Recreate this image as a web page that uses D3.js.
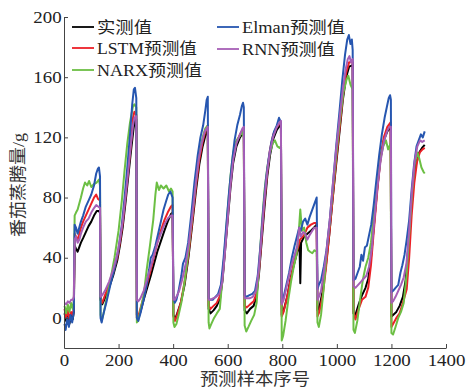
<!DOCTYPE html>
<html>
<head>
<meta charset="utf-8">
<script src="https://cdn.jsdelivr.net/npm/d3@7"></script>
<style>
  body { margin: 0; background: #fff; }
  svg text { font-family: "Liberation Serif", "Noto Sans CJK SC", serif; fill: #222; }
</style>
</head>
<body>
<div id="chart"></div>
<script>
// axis ticks
const xTicks = [0, 200, 400, 600, 800, 1000, 1200, 1400];
const yTicks = [0, 40, 80, 120, 160, 200];

// series: [sample index, transpiration g]
const measured = [
  [2,3],[8,-2],[14,3],[20,-4],[26,2],[32,-1],[36,4],[39,48],[44,46],[50,44],[56,47],[62,50],[70,53],[80,57],[90,61],[100,64],[110,68],[120,71],[128,71],[132,70],
  [134,12],[140,9],[150,13],[165,20],[180,28],[195,38],[205,48],[215,60],[225,76],[235,93],[245,110],[255,126],[262,133],[265,132],
  [267,2],[272,0],[280,4],[292,12],[305,20],[318,28],[330,36],[342,44],[355,51],[368,58],[380,64],[392,69],[398,70],
  [401,2],[407,-1],[415,3],[428,10],[442,22],[456,40],[470,62],[484,85],[496,102],[508,114],[518,121],[527,125],
  [530,6],[537,3],[548,5],[560,8],[572,13],[581,25],[590,44],[600,65],[610,86],[620,103],[632,114],[645,120],[659,124],
  [662,5],[670,3],[682,6],[695,8],[705,14],[715,30],[725,52],[735,74],[745,94],[755,108],[767,119],[780,125],[795,129],
  [798,2],[805,5],[818,14],[830,26],[842,35],[855,44],[863,50],[866,23],[869,50],[880,54],[892,56],[905,58],[916,60],[926,62],
  [929,5],[936,7],[948,18],[960,35],[972,55],[985,80],[998,103],[1010,124],[1022,145],[1034,160],[1045,167],[1058,168],
  [1061,3],[1068,2],[1080,9],[1092,15],[1105,20],[1115,26],[1125,40],[1135,60],[1148,86],[1160,106],[1172,118],[1185,124],[1197,127],
  [1200,1],[1206,2],[1218,4],[1230,8],[1242,14],[1252,25],[1262,48],[1272,72],[1282,92],[1292,104],[1302,110],[1312,113],[1322,115]
];

const lstm = [
  [2,6],[8,0],[14,5],[20,-1],[26,4],[32,2],[36,6],[39,56],[44,54],[50,52],[56,56],[62,60],[70,64],[80,68],[90,72],[100,76],[110,80],[118,82],[125,79],[132,78],
  [134,13],[140,10],[150,15],[165,22],[180,30],[195,40],[205,50],[215,63],[225,80],[235,97],[245,115],[253,133],[258,137],[265,135],
  [267,0],[272,1],[280,6],[292,14],[305,23],[318,32],[330,41],[342,50],[355,58],[368,65],[380,70],[392,74],[398,75],
  [401,1],[407,-2],[415,2],[428,10],[442,24],[456,42],[470,64],[484,88],[496,105],[508,117],[518,124],[527,128],
  [530,8],[537,6],[548,8],[560,10],[572,15],[581,27],[590,46],[600,68],[610,90],[620,107],[632,117],[645,122],[659,126],
  [662,8],[670,7],[682,9],[695,11],[705,16],[715,32],[725,55],[735,78],[745,97],[755,112],[767,122],[780,127],[795,130],
  [798,1],[805,4],[818,14],[830,25],[842,36],[855,45],[865,52],[880,55],[892,60],[905,62],[916,63],[926,63],
  [929,1],[936,4],[948,15],[960,33],[972,55],[985,80],[998,105],[1010,126],[1022,147],[1034,163],[1045,170],[1058,170],
  [1061,4],[1068,-1],[1080,6],[1092,12],[1105,14],[1115,20],[1125,35],[1135,57],[1148,84],[1160,106],[1172,120],[1185,127],[1197,130],
  [1200,-6],[1206,-4],[1218,0],[1230,3],[1242,10],[1256,19],[1265,40],[1274,68],[1284,90],[1294,104],[1304,110],[1314,112],[1322,113]
];

const narx = [
  [2,8],[8,3],[14,9],[20,4],[26,10],[32,6],[36,10],[39,68],[44,70],[50,72],[56,76],[62,80],[70,86],[77,90],[85,88],[92,91],[100,87],[110,89],[120,90],[128,92],[132,88],
  [134,2],[138,-2],[145,3],[155,12],[170,25],[185,40],[200,58],[212,78],[222,98],[232,116],[242,130],[252,140],[258,142],[265,140],
  [267,-3],[272,-2],[280,5],[292,15],[303,32],[315,48],[327,65],[335,82],[340,90],[348,85],[355,88],[365,86],[375,88],[385,84],[392,86],[398,84],
  [401,-3],[405,-6],[412,-4],[420,2],[430,10],[442,24],[456,44],[470,68],[484,92],[496,110],[508,120],[518,126],[527,128],
  [530,-3],[533,-7],[540,-4],[550,0],[560,3],[571,6],[580,25],[590,48],[600,72],[610,94],[620,110],[632,118],[645,121],[652,124],[659,120],
  [662,-5],[668,-9],[676,-6],[686,-2],[697,2],[706,10],[715,35],[725,62],[735,85],[745,100],[755,110],[765,116],[773,118],[782,114],[790,113],[795,114],
  [798,-15],[803,-12],[812,-2],[822,12],[832,24],[842,34],[852,42],[860,56],[866,72],[872,58],[880,60],[888,50],[895,45],[902,44],[910,43],[918,45],[926,44],
  [929,-3],[934,-6],[942,2],[952,20],[963,45],[975,65],[988,90],[1000,112],[1012,133],[1024,150],[1035,158],[1042,161],[1050,155],[1058,152],
  [1061,-8],[1066,-10],[1075,-2],[1085,12],[1095,25],[1105,34],[1115,40],[1125,50],[1135,68],[1148,90],[1160,106],[1170,114],[1180,118],[1188,112],[1197,116],
  [1200,-10],[1206,-11],[1215,-6],[1225,0],[1235,4],[1245,10],[1255,28],[1265,55],[1275,82],[1285,102],[1295,110],[1302,106],[1310,100],[1318,97],[1322,96]
];

const elman = [
  [2,-4],[6,-8],[12,0],[18,-6],[24,2],[30,-3],[36,4],[39,62],[44,60],[50,56],[56,60],[62,64],[70,68],[80,74],[90,78],[100,82],[110,88],[118,96],[124,99],[128,100],[132,94],
  [134,0],[138,-3],[145,3],[155,10],[170,22],[185,33],[200,46],[212,62],[222,80],[232,100],[242,122],[250,142],[256,152],[260,153],[265,146],
  [267,0],[272,-2],[280,3],[292,12],[303,22],[312,32],[318,40],[325,42],[335,48],[345,56],[355,64],[365,72],[375,78],[382,82],[390,84],[398,80],
  [401,14],[406,10],[412,12],[420,18],[430,28],[436,36],[445,40],[455,50],[466,68],[478,90],[490,108],[500,120],[510,128],[518,138],[523,145],[527,147],
  [530,13],[536,12],[545,12],[555,14],[565,16],[575,22],[585,40],[595,62],[605,84],[615,102],[625,118],[635,128],[645,135],[652,141],[656,143],[659,140],
  [662,15],[668,14],[678,15],[690,16],[700,18],[710,28],[720,48],[730,72],[740,92],[750,106],[760,117],[770,124],[780,128],[788,133],[795,130],
  [798,10],[805,14],[815,22],[825,30],[835,40],[845,48],[855,55],[862,60],[868,58],[876,64],[884,66],[892,62],[900,67],[910,72],[918,76],[926,80],
  [929,19],[934,22],[942,25],[952,34],[962,45],[974,65],[986,90],[998,115],[1010,138],[1020,158],[1030,175],[1038,185],[1044,188],[1050,182],[1055,185],[1058,178],
  [1061,25],[1068,26],[1076,30],[1084,34],[1090,42],[1096,38],[1103,47],[1110,48],[1118,55],[1126,62],[1135,75],[1145,92],[1155,108],[1165,122],[1175,133],[1183,140],[1190,146],[1195,148],[1198,145],
  [1200,17],[1206,18],[1215,20],[1225,22],[1233,30],[1240,35],[1248,42],[1256,52],[1265,65],[1274,85],[1283,102],[1292,114],[1300,118],[1308,122],[1315,120],[1322,124]
];

const rnn = [
  [2,10],[8,9],[14,11],[20,10],[26,12],[32,12],[36,14],[39,52],[44,54],[50,50],[56,52],[62,56],[70,60],[80,64],[90,66],[100,70],[110,73],[118,75],[125,74],[132,73],
  [134,14],[140,15],[150,18],[165,24],[180,32],[195,42],[205,52],[215,64],[225,80],[235,97],[245,115],[253,128],[258,133],[263,134],[265,134],
  [267,12],[272,11],[280,13],[292,18],[305,26],[318,34],[330,42],[342,50],[355,56],[368,62],[380,66],[392,68],[398,68],
  [401,12],[406,12],[412,14],[422,18],[434,26],[446,36],[458,50],[470,68],[482,88],[494,106],[506,117],[516,124],[523,126],[527,127],
  [530,12],[536,12],[546,13],[558,14],[570,16],[580,24],[590,44],[600,66],[610,88],[620,105],[632,116],[645,122],[654,126],[659,127],
  [662,13],[668,13],[680,13],[692,14],[704,18],[714,32],[724,55],[734,78],[744,96],[754,110],[766,120],[778,126],[790,130],[795,131],
  [798,9],[805,12],[815,20],[825,28],[835,36],[845,42],[855,48],[862,60],[868,54],[876,57],[884,56],[892,52],[900,55],[910,58],[918,60],[926,60],
  [929,12],[934,14],[942,18],[952,30],[962,44],[974,65],[986,90],[998,113],[1010,133],[1022,152],[1032,165],[1040,172],[1046,174],[1052,170],[1058,172],
  [1061,21],[1068,20],[1078,22],[1088,24],[1098,26],[1108,28],[1118,34],[1128,46],[1138,66],[1148,86],[1160,104],[1172,117],[1184,124],[1192,127],[1198,127],
  [1200,10],[1206,11],[1215,14],[1225,18],[1235,22],[1245,27],[1255,36],[1265,58],[1275,84],[1285,104],[1295,114],[1305,118],[1313,117],[1322,118]
];

// drawing order: black at the bottom, purple on top
const series = [
  { name: '实测值', values: measured, color: '#000000' },
  { name: 'LSTM预测值', values: lstm, color: '#ec2027' },
  { name: 'NARX预测值', values: narx, color: '#6cbf44' },
  { name: 'Elman预测值', values: elman, color: '#2656b0' },
  { name: 'RNN预测值', values: rnn, color: '#a65fb6' }
];

const width = 467;
const height = 389;

const svg = d3.select('#chart')
  .append('svg')
  .attr('width', width)
  .attr('height', height);

const x = d3.scaleLinear()
  .domain([0, 1400])
  .range([64, 446]);

const y = d3.scaleLinear()
  .domain([-20, 200])
  .range([348, 17]);

const line = d3.line()
  .x(d => x(d[0]))
  .y(d => y(d[1]));

svg.selectAll('.series')
  .data(series)
  .enter()
  .append('path')
  .attr('class', 'series')
  .attr('d', d => line(d.values))
  .attr('fill', 'none')
  .attr('stroke', d => d.color)
  .attr('stroke-width', 2)
  .attr('stroke-linejoin', 'round');

// x axis, ticks point inward
const xAxis = svg.append('g')
  .attr('transform', `translate(0, ${y(-20)})`)
  .call(d3.axisBottom(x).tickValues(xTicks).tickFormat(d3.format('d'))
    .tickSizeInner(-4).tickSizeOuter(0).tickPadding(7));

// y axis
const yAxis = svg.append('g')
  .attr('transform', `translate(${x(0)}, 0)`)
  .call(d3.axisLeft(y).tickValues(yTicks).tickFormat(d3.format('d'))
    .tickSizeInner(-4).tickSizeOuter(0).tickPadding(2));

[xAxis, yAxis].forEach(g => {
  g.select('.domain').attr('stroke', '#444').attr('stroke-width', 1);
  g.selectAll('.tick line').attr('stroke', '#444');
  g.selectAll('.tick text')
    .attr('fill', '#222')
    .attr('transform', 'scale(1.18,1)')  // the source font is set wide
    .style('font-family', '"Liberation Serif", serif')
    .style('font-size', '16px');
});

// axis titles
svg.append('text')
  .attr('x', 255)
  .attr('y', 385)
  .attr('textLength', 110)
  .attr('lengthAdjust', 'spacingAndGlyphs')
  .style('text-anchor', 'middle')
  .style('font-size', '17px')
  .style('fill', '#333')
  .text('预测样本序号');

svg.append('text')
  .attr('transform', 'translate(24, 185) rotate(-90)')
  .attr('textLength', 104)
  .attr('lengthAdjust', 'spacingAndGlyphs')
  .style('text-anchor', 'middle')
  .style('font-size', '17px')
  .style('fill', '#333')
  .text('番茄蒸腾量/g');

// legend, two columns
const legendPos = [
  { name: '实测值', x: 72, y: 27, w: 55 },
  { name: 'LSTM预测值', x: 72, y: 48, w: 100 },
  { name: 'NARX预测值', x: 72, y: 70, w: 105 },
  { name: 'Elman预测值', x: 217, y: 27, w: 103 },
  { name: 'RNN预测值', x: 217, y: 49, w: 93 }
];

const legend = svg.selectAll('.legend')
  .data(legendPos)
  .enter()
  .append('g')
  .attr('class', 'legend')
  .attr('transform', d => `translate(${d.x}, ${d.y})`);

legend.append('line')
  .attr('x1', 0)
  .attr('x2', 22)
  .attr('stroke', d => series.find(s => s.name === d.name).color)
  .attr('stroke-width', 1.8);

legend.append('text')
  .attr('x', 25)
  .attr('y', 6)
  .attr('textLength', d => d.w)
  .attr('lengthAdjust', 'spacingAndGlyphs')
  .style('font-size', '16px')
  .text(d => d.name);
</script>
</body>
</html>
